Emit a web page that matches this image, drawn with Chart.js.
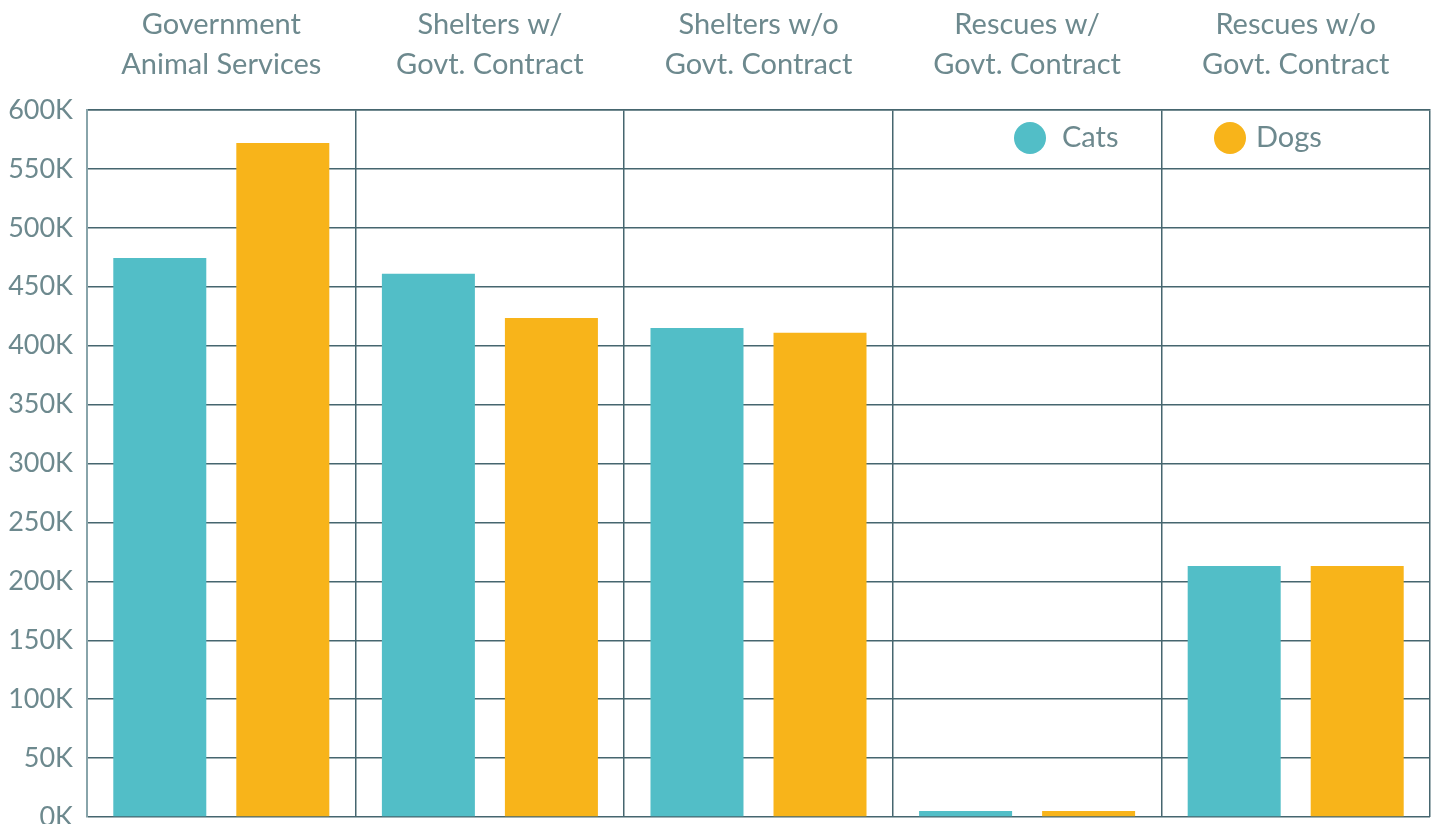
<!DOCTYPE html>
<html>
<head>
<meta charset="utf-8">
<script src="https://cdn.jsdelivr.net/npm/chart.js@4"></script>
<style>
  html, body { margin: 0; padding: 0; background: #fff; }
  #wrap { width: 1435px; height: 824px; }
</style>
</head>
<body>
<div id="wrap"><canvas id="myChart"></canvas></div>
<script>
var categories = [
    ['Government', 'Animal Services'],
    ['Shelters w/', 'Govt. Contract'],
    ['Shelters w/o', 'Govt. Contract'],
    ['Rescues w/', 'Govt. Contract'],
    ['Rescues w/o', 'Govt. Contract']
];
var cats = [474500, 461000, 415000, 5000, 213000];
var dogs = [572000, 423500, 411000, 5000, 213000];
var yTicks = [0, 600000, 50000]; // min, max, step

var textColor = '#6d898e';
var gridColor = '#46666f';

// legend drawn inside the plot, top right
var innerLegend = {
    id: 'innerLegend',
    afterDraw: function (chart) {
        var ctx = chart.ctx;
        var area = chart.chartArea;
        var y = area.top + 28;
        var offsets = [400, 200];
        ctx.save();
        ctx.font = '29px Lato';
        ctx.textBaseline = 'middle';
        ctx.textAlign = 'left';
        chart.data.datasets.forEach(function (ds, i) {
            var cx = area.right - offsets[i];
            ctx.beginPath();
            ctx.arc(cx, y, 16, 0, Math.PI * 2);
            ctx.fillStyle = ds.backgroundColor;
            ctx.fill();
            ctx.fillStyle = textColor;
            ctx.fillText(ds.label, cx + (i == 0 ? 32 : 26), y);
        });
        ctx.restore();
    }
};

var ctx = document.getElementById('myChart').getContext('2d');
var myChart = new Chart(ctx, {
    type: 'bar',
    data: {
        labels: categories,
        datasets: [{
            label: 'Cats',
            data: cats,
            backgroundColor: '#52bec7'
        }, {
            label: 'Dogs',
            data: dogs,
            backgroundColor: '#f8b41a'
        }]
    },
    options: {
        responsive: true,
        maintainAspectRatio: false,
        animation: false,
        categoryPercentage: 0.916,
        barPercentage: 0.756,
        layout: {
            padding: { top: 0, right: 5, bottom: 7, left: 0 }
        },
        plugins: {
            legend: { display: false },
            tooltip: { enabled: false }
        },
        scales: {
            x: {
                position: 'top',
                afterFit: function (scale) {
                    scale.height = 110;
                    scale.paddingLeft = 0;
                    scale.paddingRight = 0;
                },
                grid: {
                    color: gridColor,
                    lineWidth: 1.5,
                    drawTicks: false,
                    offset: true
                },
                border: { color: gridColor, width: 1.5 },
                ticks: {
                    color: textColor,
                    font: { family: 'Lato', size: 29, lineHeight: 1.38 },
                    padding: 25,
                    maxRotation: 0
                }
            },
            y: {
                min: yTicks[0],
                max: yTicks[1],
                afterFit: function (scale) {
                    scale.width = 87;
                    scale.paddingTop = 0;
                    scale.paddingBottom = 0;
                },
                grid: {
                    color: gridColor,
                    lineWidth: 1.5,
                    drawTicks: false
                },
                border: { color: '#88a4aa', width: 2 },
                ticks: {
                    stepSize: yTicks[2],
                    color: textColor,
                    font: { family: 'Lato', size: 27 },
                    padding: 14,
                    callback: function (v) { return (v / 1000) + 'K'; }
                }
            }
        }
    },
    plugins: [innerLegend]
});
</script>
</body>
</html>
